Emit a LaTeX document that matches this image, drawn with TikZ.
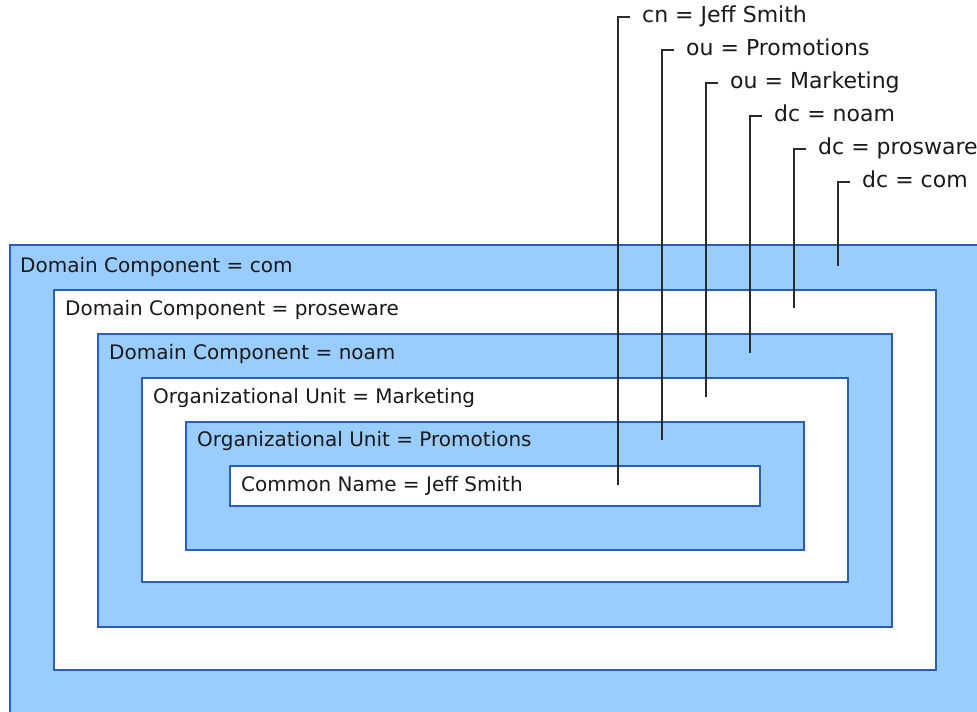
\documentclass[tikz,border=0pt]{standalone}
\usepackage{fontspec}
\setmainfont{DejaVu Sans}
\begin{document}
\begin{tikzpicture}[x=1pt,y=-1pt,
  lvl/.style={draw=boxblue, line width=2pt, anchor=north west, inner sep=0pt},
  bluebox/.style={lvl, fill=fillblue},
  whitebox/.style={lvl, fill=white},
  lbl/.style={anchor=west, inner sep=0pt, text height=1.03em, text depth=0pt, text=txt,
    font=\fontsize{20}{24}\selectfont},
  rlbl/.style={lbl, font=\fontsize{22}{26}\selectfont},
  conn/.style={draw=linegray, line width=2pt}]
\definecolor{boxblue}{HTML}{2A5CB8}
\definecolor{fillblue}{HTML}{99CCFF}
\definecolor{linegray}{HTML}{2B2B2B}
\definecolor{txt}{HTML}{1A1A1A}
\useasboundingbox (0,0) rectangle (977,712);
\fill[white] (0,0) rectangle (977,712);
% nested boxes
\node[bluebox, minimum width=990pt, minimum height=490pt] (b1) at (9,244) {};
\node[whitebox, minimum width=882pt, minimum height=380pt] (b2) at (53,289) {};
\node[bluebox, minimum width=794pt, minimum height=293pt] (b3) at (97,333) {};
\node[whitebox, minimum width=706pt, minimum height=204pt] (b4) at (141,377) {};
\node[bluebox, minimum width=618pt, minimum height=128pt] (b5) at (185,421) {};
\node[whitebox, minimum width=530pt, minimum height=40pt] (b6) at (229,465) {};
% box labels
\node[lbl] (l1) at (20,267) {Domain Component = com};
\node[lbl] (l2) at (65,310) {Domain Component = proseware};
\node[lbl] (l3) at (109,354) {Domain Component = noam};
\node[lbl] (l4) at (153,398) {Organizational Unit = Marketing};
\node[lbl] (l5) at (197,441) {Organizational Unit = Promotions};
\node[lbl] (l6) at (241,486) {Common Name = Jeff Smith};
% right labels
\node[rlbl] (r6) at (642,17) {cn = Jeff Smith};
\node[rlbl] (r5) at (686,50) {ou = Promotions};
\node[rlbl] (r4) at (730,83) {ou = Marketing};
\node[rlbl] (r3) at (774,116) {dc = noam};
\node[rlbl] (r2) at (818,149) {dc = prosware};
\node[rlbl] (r1) at (862,182) {dc = com};
% connector end points
\coordinate (e6) at (618,485);
\coordinate (e5) at (662,440);
\coordinate (e4) at (706,397);
\coordinate (e3) at (750,353);
\coordinate (e2) at (794,308);
\coordinate (e1) at (838,266);
\foreach \i in {1,...,6} {
  \draw[conn] ([xshift=-12pt]r\i.west) -| (e\i);
}
\end{tikzpicture}
\end{document}
